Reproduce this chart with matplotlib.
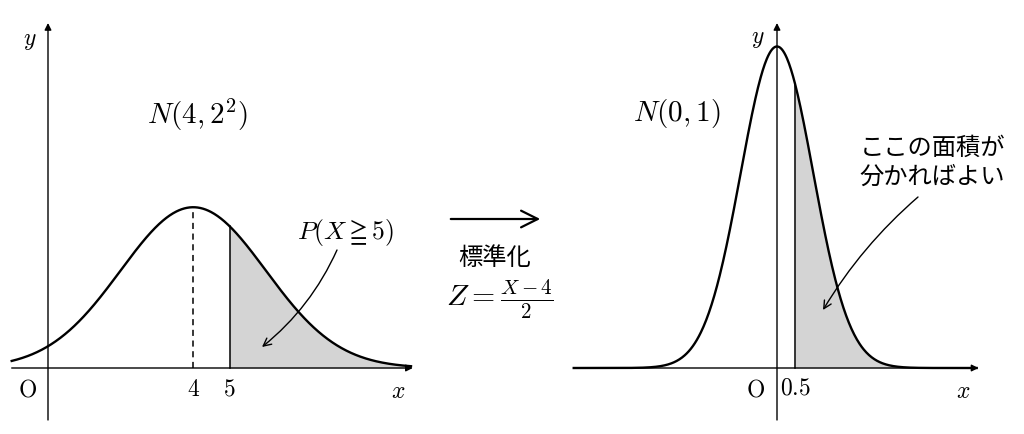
import numpy as np
import matplotlib.pyplot as plt

plt.rcParams['mathtext.fontset'] = 'cm'
plt.rcParams['font.family'] = ['DejaVu Serif']
JP = ['Noto Sans CJK JP', 'DejaVu Sans']

# distributions
left_mu, left_sd = 4, 2
right_mu, right_sd = 0, 1
left_cut = 5
right_cut = 0.5
left_span = [-1.0, 10.0]
right_span = [-5.6, 5.5]
left_ticks = [4, 5]
left_tick_labels = ['4', '5']
right_ticks = [0.5]
right_tick_labels = ['0.5']

W, H = 1024, 434
SX, SY = 36.3, 806.0   # pixels per unit (x, density)
FS = 17


def pdf(x, mu, sd):
    return np.exp(-(x - mu) ** 2 / (2 * sd ** 2)) / (sd * np.sqrt(2 * np.pi))


fig = plt.figure(figsize=(W / 100, H / 100), dpi=100)


def make_axes(px0, px1, ox, oy):
    ax = fig.add_axes([px0 / W, 0, (px1 - px0) / W, 1])
    ax.set_xlim((px0 - ox) / SX, (px1 - ox) / SX)
    ax.set_ylim(-(H - oy) / SY, oy / SY)
    ax.axis('off')
    ax.ox, ax.oy = ox, oy
    return ax


def P(ax, px, py):
    # pixel position (from top-left) -> data coords of ax
    return ((px - ax.ox) / SX, (ax.oy - py) / SY)


def draw_axes(ax, span, ytop, ybot):
    ax.annotate('', xy=(span[1] + 0.05, 0), xytext=(span[0], 0),
                arrowprops=dict(arrowstyle='-|>', lw=1.0, color='black',
                                mutation_scale=10, shrinkA=0, shrinkB=0))
    ax.annotate('', xy=(0, ytop), xytext=(0, ybot),
                arrowprops=dict(arrowstyle='-|>', lw=1.0, color='black',
                                mutation_scale=10, shrinkA=0, shrinkB=0))


def draw_curve(ax, mu, sd, span, cut, dashed_peak=False):
    x = np.linspace(span[0], span[1], 600)
    y = pdf(x, mu, sd)
    xf = np.linspace(cut, span[1], 400)
    ax.fill_between(xf, 0, pdf(xf, mu, sd), color='#d4d4d4', lw=0)
    ax.plot(x, y, color='black', lw=1.7, zorder=3)
    ax.plot([cut, cut], [0, pdf(cut, mu, sd)], color='black', lw=1.1)
    if dashed_peak:
        ax.plot([mu, mu], [0, pdf(mu, mu, sd)], color='black', lw=1.1,
                ls=(0, (4, 3)))


# left panel: N(4, 2^2)
axl = make_axes(0, 440, 48, 368)
draw_axes(axl, left_span, 345 / SY, -52 / SY)
draw_curve(axl, left_mu, left_sd, left_span, left_cut, dashed_peak=True)
for t, lab in zip(left_ticks, left_tick_labels):
    axl.text(t, P(axl, 0, 389)[1], '$' + lab + '$', fontsize=FS,
             ha='center', va='center')
axl.text(*P(axl, 27, 390), r'$\mathrm{O}$', fontsize=FS, ha='center', va='center')
axl.text(*P(axl, 398, 391), '$x$', fontsize=FS, ha='center', va='center')
axl.text(*P(axl, 30, 41), '$y$', fontsize=FS, ha='center', va='center')
axl.text(*P(axl, 197, 115), r'$N(4,2^2)$', fontsize=21, ha='center', va='center')
axl.text(*P(axl, 345, 233), r'$P(X\geqq 5)$', fontsize=18.5, ha='center', va='center')
axl.annotate('', xy=P(axl, 262, 347), xytext=P(axl, 337, 250),
             arrowprops=dict(arrowstyle='->', lw=1.0, color='black',
                             connectionstyle='arc3,rad=-0.12',
                             mutation_scale=14, shrinkA=0, shrinkB=0))

# right panel: N(0, 1)
axr = make_axes(560, 1024, 777, 368)
draw_axes(axr, right_span, 345 / SY, -52 / SY)
draw_curve(axr, right_mu, right_sd, right_span, right_cut)
for t, lab in zip(right_ticks, right_tick_labels):
    axr.text(t, P(axr, 0, 388)[1], '$' + lab + '$', fontsize=FS,
             ha='center', va='center')
axr.text(*P(axr, 755, 390), r'$\mathrm{O}$', fontsize=FS, ha='center', va='center')
axr.text(*P(axr, 963, 391), '$x$', fontsize=FS, ha='center', va='center')
axr.text(*P(axr, 758, 39), '$y$', fontsize=FS, ha='center', va='center')
axr.text(*P(axr, 677, 113), r'$N(0,1)$', fontsize=21, ha='center', va='center')
axr.text(*P(axr, 932, 162), 'ここの面積が\n分かればよい', fontsize=17.5,
         family=JP, ha='center', va='center', linespacing=1.15)
axr.annotate('', xy=P(axr, 823, 310), xytext=P(axr, 918, 197),
             arrowprops=dict(arrowstyle='->', lw=1.0, color='black',
                             connectionstyle='arc3,rad=0.08',
                             mutation_scale=14, shrinkA=0, shrinkB=0))

# middle: standardization
fig.text(495 / W, 1 - 258 / H, '標準化', fontsize=17.5, family=JP,
         ha='center', va='center')
fig.text(500 / W, 1 - 299 / H, r'$Z=\frac{X-4}{2}$', fontsize=21.5,
         ha='center', va='center')
fig.patches.append(plt.matplotlib.patches.FancyArrowPatch(
    (448 / W, 1 - 219 / H), (543 / W, 1 - 219 / H), transform=fig.transFigure,
    arrowstyle='->,head_length=0.6,head_width=0.3', lw=1.6, color='black',
    mutation_scale=20))

fig.savefig('out.png', dpi=100)
